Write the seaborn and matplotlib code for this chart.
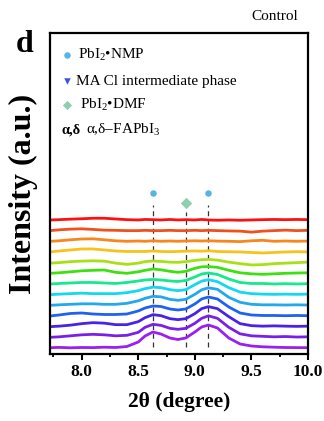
import numpy as np
import pandas as pd
import matplotlib
matplotlib.use("Agg")
import matplotlib.pyplot as plt
import seaborn as sns
from matplotlib.ticker import MultipleLocator

# ---- data (heights above each trace's own baseline, a.u.) ----
theta = [7.72, 7.8, 7.9, 8.0, 8.1, 8.2, 8.3, 8.4, 8.5, 8.56, 8.63, 8.7, 8.78, 8.85,
         8.92, 9.0, 9.06, 9.12, 9.2, 9.3, 9.4, 9.5, 9.6, 9.7, 9.8, 9.9, 10.0]

c0 = [0.3, 0.6, 0.2, 0.5, 0.4, 0.8, 0.5, 1.5, 6, 12, 16, 14, 10, 8.5, 10, 16, 21, 23, 20, 10, 4, 2, 1.2, 0.8, 0.5, 0.4, 0.3]
c1 = [0, 0.5, 1.5, 2.5, 3, 2.5, 1.5, 2, 5, 10, 13, 12, 9, 8, 9, 14, 19, 21.5, 19, 10, 3.5, 1.5, 1, 0.5, 0.8, 0.3, 0.5]
c2 = [0, 0.5, 1.5, 3, 4, 3.5, 2, 2, 5, 9, 12, 11, 8, 7, 8, 13, 18, 20, 18, 10, 3, 1, 0.5, 0.8, 0.5, 0.3, 0.5]
c3 = [0, 1, 2.5, 3, 2, 1.5, 1.5, 2, 5, 8, 10, 9.5, 7, 6, 7, 12, 17, 19, 17, 9, 3, 1, 0.5, 0.5, 0.3, 0.5, 0.3]
c4 = [0, 0.5, 1, 1.5, 1.5, 1, 1, 2, 4.5, 7, 9, 8.5, 6, 5, 6, 11, 15.5, 17.5, 16, 8, 3, 1, 0.5, 0.5, 0.3, 0.5, 0.3]
c5 = [0, 0.5, 1, 1.5, 1, 1, 1, 2, 4, 6, 7.5, 7, 5, 4, 5, 10, 13.5, 15, 13, 7, 2.5, 1, 0.5, 0.3, 0.5, 0.3, 0.5]
c6 = [0, 0.5, 1, 1.5, 1.5, 1, 0.5, 1.5, 3, 4, 4.5, 4, 3, 2.5, 3.5, 7, 10, 11, 9.5, 5, 1.5, 0.5, 0.5, 0, 0.3, 0, 0.3]
c7 = [0, 0.5, 1.5, 2.5, 3, 3.3, 1, 0, 1.5, 3, 4.3, 3.5, 2, 1, 2, 5, 6.5, 6.7, 6, 3, 0.5, -0.5, -1, -0.5, 0, 0.3, 0.5]
c8 = [-0.5, 0, 1, 1.5, 1.8, 1.5, -0.5, -1.7, -0.5, 1, 1.7, 1.2, 0.5, 0.3, 1, 2.2, 3, 3.2, 2.5, 0.5, -1, -2.3, -2, -1, -0.5, 0, 0.5]
c9 = [0, 1, 2, 3, 3, 2, 1, 0.5, 0.5, 0.5, 1, 0.5, 0.3, 0.5, 0.8, 1, 0.8, 1.2, 0.5, 0.2, 0, -0.5, -1, -0.5, 0, 0.3, 0]
c10 = [0, 0.5, 1.5, 2.3, 2.5, 1.5, 0.5, 0, 0.3, 0, 0.5, 0, 0.3, 0, 0.3, 0.5, 0.3, 0.5, 0.2, 0, -0.3, 0.5, 1, 0, 0.3, 0, 0.3]
c11 = [0, 0.8, 1.5, 1.8, 1.2, 0.5, 0.3, 0, 0, 0.3, 0, 0, 0.3, 0, 0, 0.3, 0, 0.3, 0, -0.3, -0.5, -1.5, -0.5, 0, 0.5, 0, 0.3]
c12 = [0, 0.3, 0.8, 1.2, 1.7, 1.7, 1, 0.3, 0, 0.5, 0.3, 0, 0.5, 0, 0.3, 0, 0.5, 0, -0.3, 0, -0.3, 0, 0.3, 0.5, 0.3, 0.5, 0.3]

traces = [c0, c1, c2, c3, c4, c5, c6, c7, c8, c9, c10, c11, c12]
trace_colors = ["#9a1ff0", "#7a1fe8", "#4a22e6", "#1f62f2", "#22a8ee", "#12d8f0",
                "#16e88e", "#3ee012", "#a8e016", "#f8c21a", "#f8861a", "#f0501a", "#ff1010"]

nmp_peaks = [8.63, 9.12]
dmf_peaks = [8.92]

# ---- build long-form table with stacking offsets ----
base0 = 6.0
step = 10.67
rows = []
for i, tr in enumerate(traces):
    for xv, hv in zip(theta, tr):
        rows.append({"theta": xv, "I": base0 + i * step + hv, "trace": f"t{i}"})
df = pd.DataFrame(rows)

sns.set_theme(style="white")
plt.rcParams["font.family"] = ["Liberation Serif", "DejaVu Serif"]
plt.rcParams["mathtext.fontset"] = "custom"
plt.rcParams["mathtext.rm"] = "Liberation Serif"
plt.rcParams["mathtext.it"] = "Liberation Serif:italic"
plt.rcParams["mathtext.bf"] = "Liberation Serif:bold"
plt.rcParams["text.color"] = "black"
plt.rcParams["axes.labelcolor"] = "black"
plt.rcParams["xtick.color"] = "black"
plt.rcParams["ytick.color"] = "black"

fig = plt.figure(figsize=(3.24, 4.21), dpi=100)
ax = fig.add_axes([50 / 324, 1 - 354 / 421, 258 / 324, 321 / 421])

sns.lineplot(data=df, x="theta", y="I", hue="trace", palette=trace_colors,
             legend=False, linewidth=2.0, ax=ax, estimator=None)

# reference dashed lines and peak markers
for xp in nmp_peaks:
    ax.plot([xp, xp], [7, 149], ls=(0, (4, 3)), color="#333333", lw=0.9, zorder=1)
for xp in dmf_peaks:
    ax.plot([xp, xp], [7, 142], ls=(0, (4, 3)), color="#333333", lw=0.9, zorder=1)
ax.scatter(nmp_peaks, [161] * len(nmp_peaks), s=22, color="#56b6e2", zorder=3, linewidths=0)
ax.scatter(dmf_peaks, [151] * len(dmf_peaks), s=34, marker="D", color="#8ecfb2", zorder=3, linewidths=0)

ax.set_xlim(7.72, 10.0)
ax.set_ylim(0, 321)
ax.set_yticks([])
ax.xaxis.set_major_locator(MultipleLocator(0.5))
ax.xaxis.set_minor_locator(MultipleLocator(0.25))
ax.set_xticks([8.0, 8.5, 9.0, 9.5, 10.0])
ax.set_xticklabels(["8.0", "8.5", "9.0", "9.5", "10.0"], fontweight="bold", fontsize=12.5)
ax.tick_params(axis="x", which="major", direction="out", length=4, width=1.5, bottom=True, pad=3,
               colors="black")
ax.tick_params(axis="x", which="minor", direction="out", length=2.5, width=1.3, bottom=True,
               colors="black")
for sp in ax.spines.values():
    sp.set_visible(True)
    sp.set_color("black")
    sp.set_linewidth(1.6)

ax.set_xlabel("2θ (degree)", fontsize=15.5, fontweight="bold", labelpad=9, color="black")
ax.set_ylabel("Intensity (a.u.)", fontsize=23, fontweight="bold", color="black")
ax.yaxis.set_label_coords(-(50 - 38) / 258, 0.5)

# legend drawn manually in axes coordinates
def ax_xy(px, py):
    return ((px - 50) / 258, (354 - py) / 321)

ax.scatter(*ax_xy(67, 55), s=22, color="#56b6e2", transform=ax.transAxes, linewidths=0, clip_on=False)
ax.text(*ax_xy(78, 55), "PbI$_2$•NMP", transform=ax.transAxes, fontsize=11, va="center", ha="left")
ax.scatter(*ax_xy(67, 81), s=22, marker="v", color="#3a56e0", transform=ax.transAxes, linewidths=0)
ax.text(*ax_xy(76, 81), "MA Cl intermediate phase", transform=ax.transAxes, fontsize=11, va="center", ha="left")
ax.scatter(*ax_xy(67, 105), s=22, marker="D", color="#8ecfb2", transform=ax.transAxes, linewidths=0)
ax.text(*ax_xy(80, 105), "PbI$_2$•DMF", transform=ax.transAxes, fontsize=11, va="center", ha="left")
ax.text(*ax_xy(62, 130), "α,δ", transform=ax.transAxes, fontsize=10.5, fontweight="bold", va="center", ha="left")
ax.text(*ax_xy(86, 130), "α,δ–FAPbI$_3$", transform=ax.transAxes, fontsize=11, va="center", ha="left")

fig.text(298 / 324, 1 - 16 / 421, "Control", fontsize=11, ha="right", va="center")
fig.text(25 / 324, 1 - 45 / 421, "d", fontsize=23, fontweight="bold", ha="center", va="center")

fig.savefig("out.png", dpi=100)
